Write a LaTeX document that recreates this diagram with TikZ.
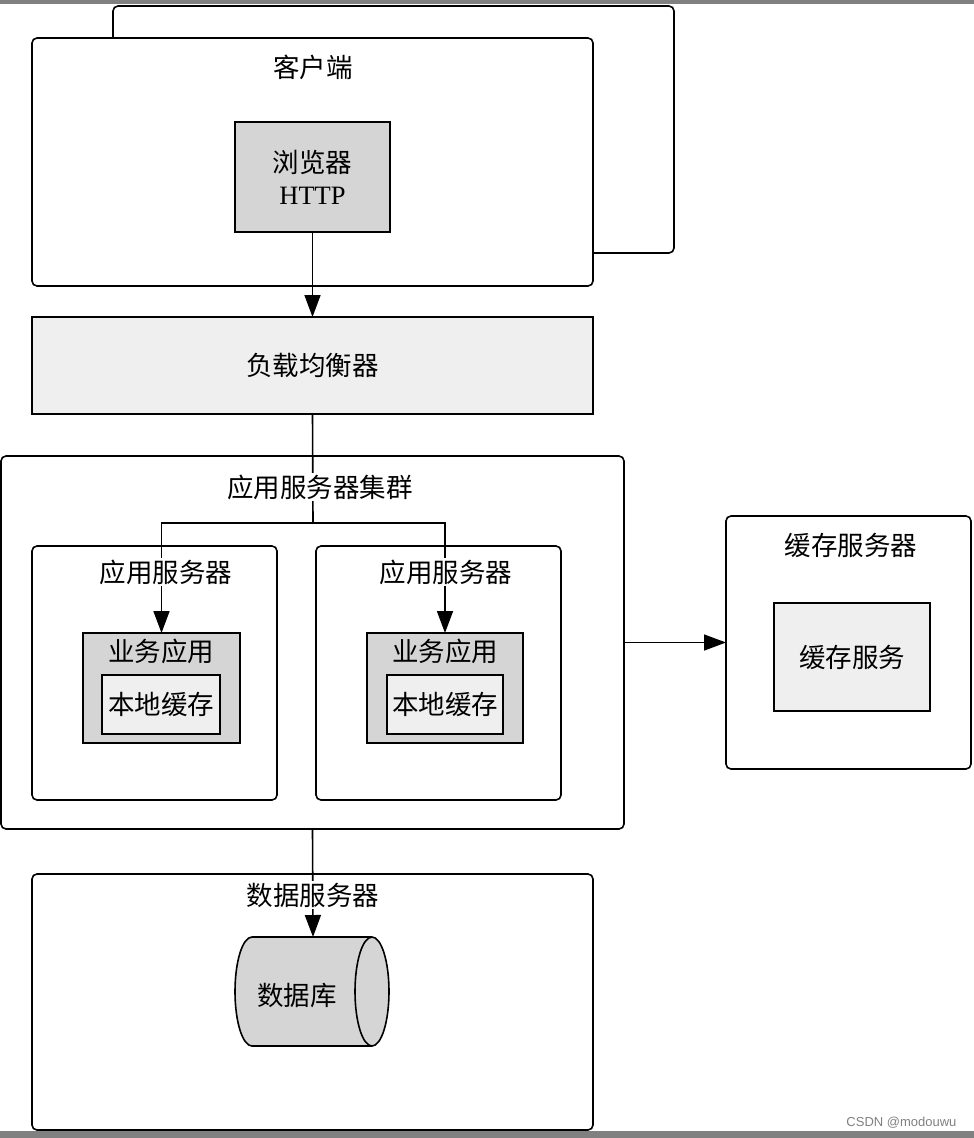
\documentclass[tikz,border=0pt]{standalone}
\usepackage{fontspec}
\setmainfont{Liberation Serif}
\newfontfamily\cjk{Noto Sans CJK SC}
\newfontfamily\wmfont{Liberation Sans}
\usetikzlibrary{arrows.meta}
\definecolor{darkfill}{HTML}{D5D5D5}
\definecolor{lightfill}{HTML}{EFEFEF}
\definecolor{barcol}{HTML}{808080}
\tikzset{
  base/.style={draw=black, line width=1.6pt, inner sep=0pt, outer sep=0pt, anchor=north west},
  roundbox/.style={base, rounded corners=5pt, fill=white},
  sqbox/.style={base},
  lbl/.style={fill=white, inner sep=2pt, font=\cjk\fontsize{26.5}{32}\selectfont},
  txt/.style={font=\cjk\fontsize{26.5}{32}\selectfont, align=center},
  conn/.style={line width=1.6pt},
  arr/.style={conn, -{Triangle[length=22pt,width=16pt]}},
}
\begin{document}
\begin{tikzpicture}[x=1pt,y=-1pt]
\useasboundingbox (0,0) rectangle (974,1138);
% screenshot bars
\fill[barcol] (0,0) rectangle (974,4);
\fill[barcol] (0,1131) rectangle (974,1138);

% client stack (back card)
\draw[line width=1.6pt, rounded corners=5pt] (113,40) -- (113,6) -- (674,6) -- (674,253) -- (591,253);
% client
\node[roundbox, minimum width=561pt, minimum height=248pt] (client) at (32,38) {};
\node[lbl] (clientlbl) at (313,67) {客户端};
\node[sqbox, fill=darkfill, minimum width=155pt, minimum height=110pt] (browser) at (235,122) {};
\node[font=\fontsize{26.5}{32}\selectfont, align=center] (browsertxt) at (browser.center) {{\cjk 浏览器}\\HTTP};

% load balancer
\node[sqbox, fill=lightfill, minimum width=561pt, minimum height=97pt] (lb) at (32,317) {};
\node[txt] (lbtxt) at (lb.center) {负载均衡器};

% cluster
\node[roundbox, minimum width=623pt, minimum height=373pt] (cluster) at (1,456) {};
\node[roundbox, minimum width=245pt, minimum height=254pt] (app1) at (32,546) {};
\node[roundbox, minimum width=245pt, minimum height=254pt] (app2) at (316,546) {};
\node[sqbox, fill=darkfill, minimum width=157pt, minimum height=110pt] (biz1) at (83,633) {};
\node[sqbox, fill=darkfill, minimum width=156pt, minimum height=110pt] (biz2) at (367,633) {};
\node[sqbox, fill=lightfill, minimum width=118pt, minimum height=59pt] (lc1) at (102,675) {};
\node[sqbox, fill=lightfill, minimum width=116pt, minimum height=59pt] (lc2) at (387,675) {};
\node[txt] (lc1txt) at (lc1.center) {本地缓存};
\node[txt] (lc2txt) at (lc2.center) {本地缓存};
\node[txt] (biz1txt) at (161,651) {业务应用};
\node[txt] (biz2txt) at (445,651) {业务应用};

% cache server
\node[roundbox, minimum width=245pt, minimum height=253pt] (cache) at (726,516) {};
\node[lbl] (cachelbl) at (851,545) {缓存服务器};
\node[sqbox, fill=lightfill, minimum width=156pt, minimum height=108pt] (csvc) at (774,603) {};
\node[txt] (csvctxt) at (csvc.center) {缓存服务};

% data server
\node[roundbox, minimum width=561pt, minimum height=256pt] (data) at (32,874) {};
% database cylinder
\draw[line width=1.6pt, fill=darkfill] (252,937) -- (372,937) arc[start angle=-90, end angle=90, x radius=17, y radius=54.5] -- (252,1046) arc[start angle=90, end angle=270, x radius=17, y radius=54.5] -- cycle;
\draw[line width=1.6pt] (372,937) arc[start angle=270, end angle=90, x radius=17, y radius=54.5];
\coordinate (dbtop) at (313,937);
\node[txt] (dbtxt) at (297,995) {数据库};

% connectors
\coordinate (junc) at (313,523);
\draw[arr] (browser.south) -- (lb.north);
\draw[conn] (lb.south) -- (junc);
\draw[arr] (junc) -| (biz1.north);
\draw[arr] (junc) -| (biz2.north);
\draw[arr] (cluster.east) -- (cache.west);
\draw[arr] (cluster.south) -- (dbtop);

% labels over lines
\node[lbl] (clusterlbl) at (320,487) {应用服务器集群};
\node[lbl] (app1lbl) at (166,572) {应用服务器};
\node[lbl] (app2lbl) at (446,572) {应用服务器};
\node[lbl] (datalbl) at (313,895) {数据服务器};

% watermark
\node[font=\wmfont\fontsize{13}{15}\selectfont, text=gray, anchor=east] (wm) at (960,1123) {CSDN @modouwu};
\end{tikzpicture}
\end{document}
